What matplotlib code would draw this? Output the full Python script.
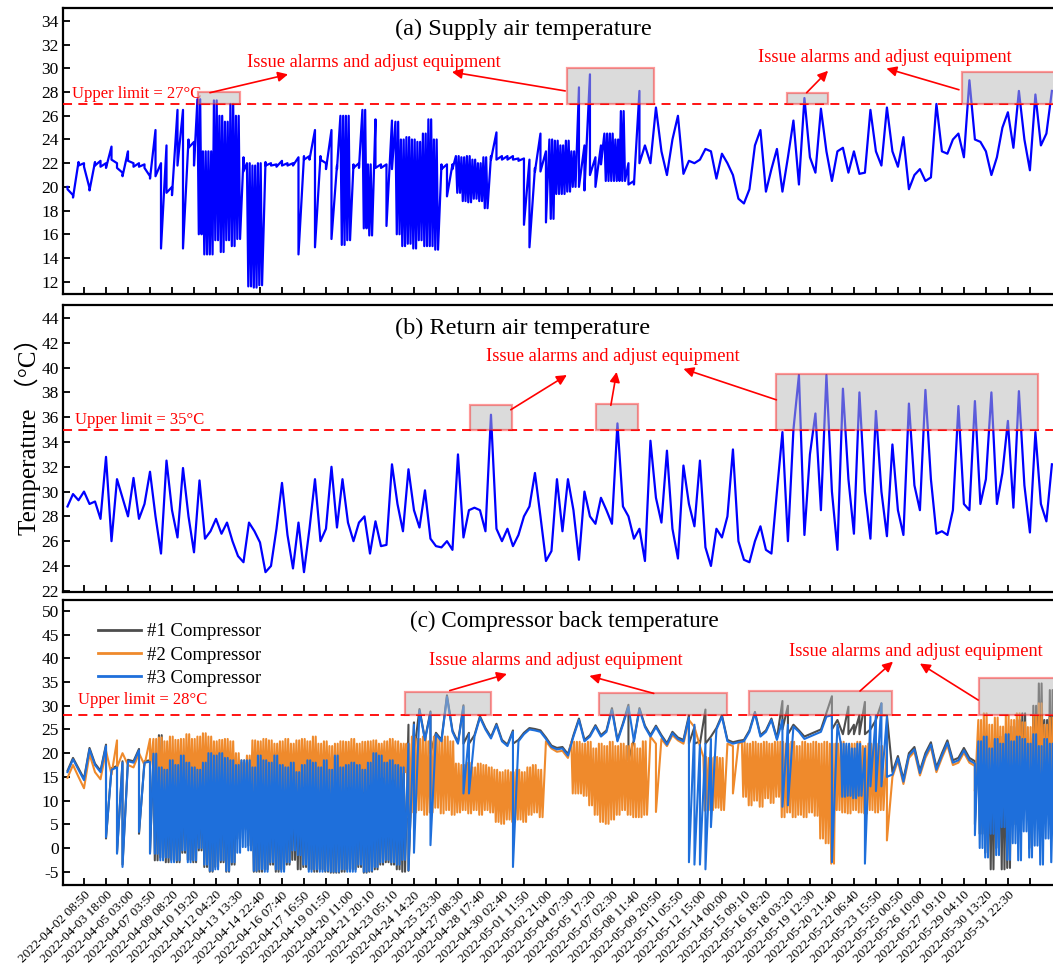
import numpy as np
import matplotlib
matplotlib.use("Agg")
import matplotlib.pyplot as plt
from matplotlib.patches import Rectangle
from matplotlib.lines import Line2D

plt.rcParams['font.family'] = ['Liberation Serif', 'Noto Sans CJK SC']
plt.rcParams['axes.unicode_minus'] = False

# ---------------- data ----------------
tick_labels = [
    "2022-04-02 08:50", "2022-04-03 18:00", "2022-04-05 03:00", "2022-04-07 03:50",
    "2022-04-09 08:20", "2022-04-10 19:20", "2022-04-12 04:20", "2022-04-13 13:30",
    "2022-04-14 22:40", "2022-04-16 07:40", "2022-04-17 16:50", "2022-04-19 01:50",
    "2022-04-20 11:00", "2022-04-21 20:10", "2022-04-23 05:10", "2022-04-24 14:20",
    "2022-04-25 23:30", "2022-04-27 08:30", "2022-04-28 17:40", "2022-04-30 02:40",
    "2022-05-01 11:50", "2022-05-02 21:00", "2022-05-04 07:30", "2022-05-05 17:20",
    "2022-05-07 02:30", "2022-05-08 11:40", "2022-05-09 20:50", "2022-05-11 05:50",
    "2022-05-12 15:00", "2022-05-14 00:00", "2022-05-15 09:10", "2022-05-16 18:20",
    "2022-05-18 03:20", "2022-05-19 12:30", "2022-05-20 21:40", "2022-05-22 06:40",
    "2022-05-23 15:50", "2022-05-25 00:50", "2022-05-26 10:00", "2022-05-27 19:10",
    "2022-05-29 04:10", "2022-05-30 13:20", "2022-05-31 22:30", ""]

# supply air: per-sample maximum and minimum
supply_hi = [
    20.0, 19.3, 22.1, 22.0, 19.9, 22.1, 22.2, 22.0, 23.4, 22.0,
    21.2, 23.0, 22.0, 22.0, 21.9, 20.9, 24.8, 22.0, 23.5, 20.0,
    26.5, 26.5, 24.0, 23.8, 27.4, 23.0, 23.0, 27.3, 26.0, 25.5,
    27.0, 26.0, 22.5, 22.0, 21.8, 22.0, 22.1, 22.0, 21.9, 22.2,
    22.0, 22.0, 22.5, 22.6, 22.6, 24.8, 22.6, 22.0, 24.8, 21.8,
    26.0, 26.0, 21.9, 22.0, 26.5, 21.9, 25.7, 21.9, 21.9, 25.6,
    25.5, 24.0, 24.2, 24.0, 23.8, 24.5, 25.7, 24.0, 21.9, 21.9,
    21.9, 22.6, 22.5, 22.6, 22.3, 22.0, 22.5, 22.6, 24.6, 22.6,
    22.6, 22.6, 22.4, 22.4, 22.3, 21.6, 24.5, 23.0, 24.0, 23.9,
    23.5, 23.9, 23.0, 28.4, 23.5, 29.5, 22.5, 23.5, 24.5, 24.5,
    24.0, 26.4, 22.0, 20.5, 28.1, 23.5, 22.0, 26.7, 23.0, 21.0,
    24.0, 26.0, 21.1, 22.2, 22.0, 22.3, 23.2, 23.0, 20.7, 22.8,
    22.0, 21.0, 19.0, 18.6, 19.8, 23.5, 24.8, 19.6, 21.5, 23.2,
    19.6, 22.5, 25.6, 20.2, 27.5, 22.5, 21.2, 26.6, 23.0, 20.5,
    23.0, 23.3, 21.2, 23.0, 21.1, 21.2, 26.5, 23.0, 21.8, 26.7,
    23.0, 21.7, 24.2, 19.8, 21.0, 21.5, 20.5, 20.8, 27.0, 23.0,
    22.8, 24.0, 24.5, 22.5, 29.0, 24.0, 23.8, 23.0, 21.0, 22.5,
    25.0, 26.3, 23.3, 28.1, 24.0, 21.4, 27.8, 23.5, 24.5, 28.1]
supply_lo = [
    19.8, 19.1, 21.8, 21.7, 19.7, 21.8, 21.7, 21.6, 22.3, 21.6,
    20.9, 22.2, 21.7, 21.7, 21.6, 20.7, 20.9, 14.8, 19.5, 19.3,
    21.8, 14.8, 23.3, 21.8, 16.0, 14.3, 14.3, 15.5, 14.5, 15.5,
    15.0, 15.6, 21.3, 11.6, 11.5, 11.7, 21.8, 21.8, 21.7, 21.8,
    21.8, 21.8, 14.3, 22.3, 22.3, 14.9, 22.3, 21.5, 15.6, 21.5,
    15.1, 15.5, 21.6, 21.6, 16.5, 15.9, 21.6, 21.6, 16.7, 21.5,
    16.0, 15.0, 15.2, 14.8, 15.5, 15.0, 15.0, 14.7, 21.5, 19.2,
    21.5, 19.5, 18.8, 18.7, 19.0, 18.8, 18.2, 22.3, 22.3, 22.3,
    22.3, 22.3, 22.2, 16.8, 14.9, 21.3, 21.3, 17.0, 17.3, 19.4,
    19.4, 19.6, 20.0, 20.0, 19.7, 21.0, 20.0, 21.9, 20.5, 20.5,
    20.5, 20.5, 20.2, 20.2, 22.0, 23.5, 22.0, 26.7, 23.0, 21.0,
    24.0, 26.0, 21.1, 22.2, 22.0, 22.3, 23.2, 23.0, 20.7, 22.8,
    22.0, 21.0, 19.0, 18.6, 19.8, 23.5, 24.8, 19.6, 21.5, 23.2,
    19.6, 22.5, 25.6, 20.2, 27.5, 22.5, 21.2, 26.6, 23.0, 20.5,
    23.0, 23.3, 21.2, 23.0, 21.1, 21.2, 26.5, 23.0, 21.8, 26.7,
    23.0, 21.7, 24.2, 19.8, 21.0, 21.5, 20.5, 20.8, 27.0, 23.0,
    22.8, 24.0, 24.5, 22.5, 29.0, 24.0, 23.8, 23.0, 21.0, 22.5,
    25.0, 26.3, 23.3, 28.1, 24.0, 21.4, 27.8, 23.5, 24.5, 28.1]
# sample ranges (inclusive) where the signal oscillates rapidly
supply_dense = [(24, 31), (33, 35), (50, 51), (54, 55), (60, 67), (71, 76), (88, 92), (98, 101)]

return_air = [
    28.8, 29.8, 29.3, 30.0, 29.0, 29.2, 27.8, 32.8, 26.0, 31.0,
    29.5, 28.0, 31.1, 27.8, 29.0, 31.6, 28.0, 25.0, 32.5, 28.5,
    26.3, 31.9, 28.0, 25.1, 30.9, 26.2, 26.8, 27.8, 26.6, 27.5,
    26.0, 24.8, 24.3, 27.5, 26.8, 25.9, 23.5, 24.0, 27.0, 30.7,
    26.5, 23.8, 27.5, 23.5, 27.0, 31.0, 26.0, 27.0, 32.0, 27.1,
    31.0, 27.5, 26.0, 27.5, 28.0, 25.0, 27.6, 25.6, 25.7, 32.2,
    29.0, 26.8, 31.8, 28.5, 27.1, 30.1, 26.2, 25.6, 25.5, 26.0,
    25.3, 33.0, 26.3, 28.5, 28.7, 28.5, 26.8, 36.2, 27.0, 26.0,
    27.0, 25.6, 26.5, 28.0, 28.8, 31.5, 28.0, 24.4, 25.2, 31.0,
    26.8, 31.0, 28.5, 24.5, 30.0, 28.0, 27.4, 29.5, 28.5, 27.4,
    35.5, 28.8, 28.0, 26.2, 27.0, 24.4, 34.1, 29.5, 27.5, 33.3,
    27.0, 24.6, 32.1, 29.0, 27.2, 32.5, 25.5, 24.0, 27.0, 26.3,
    28.0, 33.4, 26.0, 24.5, 24.3, 26.0, 27.2, 25.3, 25.0, 30.0,
    34.8, 26.0, 35.0, 39.4, 26.5, 33.0, 36.3, 28.5, 39.4, 30.0,
    25.3, 38.3, 31.0, 26.6, 38.0, 30.0, 26.2, 36.5, 30.0, 26.4,
    33.8, 28.5, 26.5, 37.1, 30.5, 28.5, 38.2, 31.0, 26.6, 26.8,
    26.5, 28.5, 36.9, 29.0, 28.5, 37.3, 29.0, 31.0, 38.0, 29.0,
    31.5, 35.7, 28.7, 38.1, 30.5, 26.7, 34.8, 29.0, 27.6, 32.2]

# compressor series: per-sample maximum and minimum
comp1_hi = [
    16.3, 19.0, 16.8, 14.6, 21.1, 17.8, 16.3, 21.8, 16.8, 17.3,
    18.3, 18.6, 18.3, 20.9, 18.3, 18.5, 19.5, 23.8, 16.0, 18.0,
    17.0, 19.0, 17.5, 16.5, 16.0, 17.5, 19.5, 19.0, 19.5, 18.5,
    18.0, 17.0, 18.0, 18.0, 16.5, 19.0, 18.0, 17.5, 19.0, 17.0,
    16.5, 17.5, 15.5, 17.0, 18.0, 17.5, 16.5, 18.0, 16.0, 19.0,
    16.5, 17.0, 17.5, 17.0, 16.0, 17.5, 19.5, 19.0, 17.5, 18.0,
    17.0, 18.5, 26.0, 26.5, 29.3, 23.0, 28.8, 24.3, 22.8, 32.2,
    24.8, 22.3, 30.1, 24.3, 23.8, 27.8, 25.3, 23.4, 26.2, 22.8,
    21.8, 24.8, 22.8, 24.3, 25.3, 25.1, 24.8, 23.3, 21.6, 21.1,
    21.3, 19.8, 23.8, 27.3, 22.8, 23.8, 25.9, 23.8, 24.8, 29.5,
    22.8, 26.3, 30.2, 22.8, 29.5, 25.8, 23.8, 25.8, 23.8, 22.1,
    24.5, 23.3, 22.8, 28.0, 25.5, 22.5, 29.2, 23.5, 25.3, 28.0,
    22.8, 22.3, 22.6, 22.8, 24.8, 28.7, 23.8, 24.8, 27.3, 23.1,
    31.0, 30.0, 26.0, 24.8, 23.5, 24.0, 24.5, 25.0, 28.5, 32.0,
    27.0, 24.0, 29.8, 26.0, 28.0, 30.8, 25.0, 27.0, 30.5, 28.0,
    16.0, 19.4, 14.5, 20.0, 21.3, 16.3, 20.0, 22.3, 17.0, 20.0,
    22.7, 18.5, 19.0, 21.1, 19.0, 18.3, 22.7, 23.0, 21.5, 22.0,
    23.5, 24.0, 25.6, 27.0, 28.4, 22.0, 30.0, 34.7, 27.0, 33.3]
comp1_lo = [
    16.3, 19.0, 16.8, 14.6, 21.1, 17.8, 16.3, 2.0, 16.8, -1.0,
    -3.5, 18.6, 18.3, 3.0, 18.3, -1.0, -2.6, -2.0, -3.0, -2.5,
    -3.0, -1.0, -2.5, -3.0, -0.5, -4.0, -5.0, -4.0, -3.0, -5.0,
    -3.5, 2.0, 4.0, 0.5, -5.0, -5.0, -4.5, -3.5, -5.0, -4.5,
    -3.5, -2.5, -4.5, -4.0, -4.5, -5.0, -4.5, -5.0, -5.2, -5.2,
    -5.0, -4.5, -4.5, -4.0, -5.2, -5.0, -4.5, -3.5, -3.0, -3.5,
    -4.5, -5.0, -4.8, 20.0, 29.3, 23.0, 20.0, 24.3, 22.8, 32.2,
    24.8, 22.3, 22.0, 22.0, 23.8, 27.8, 25.3, 23.4, 26.2, 22.8,
    21.8, 22.0, 22.8, 24.3, 25.3, 25.1, 24.8, 23.3, 21.6, 21.1,
    21.3, 19.8, 23.8, 27.3, 22.8, 23.8, 25.9, 23.8, 24.8, 29.5,
    22.8, 26.3, 18.5, 22.8, 29.5, 25.8, 23.8, 25.8, 23.8, 22.1,
    24.5, 23.3, 22.8, 22.0, 22.0, 22.0, 22.0, 23.5, 25.3, 28.0,
    22.8, 22.3, 22.6, 22.8, 24.8, 28.7, 23.8, 24.8, 27.3, 23.1,
    25.0, 24.0, 26.0, 24.8, 23.5, 24.0, 24.5, 25.0, 28.5, 25.0,
    27.0, 24.0, 24.0, 24.0, 24.0, 24.0, 25.0, 27.0, 28.0, 28.0,
    16.0, 19.4, 14.5, 20.0, 21.3, 16.3, 20.0, 22.3, 17.0, 20.0,
    22.7, 18.5, 19.0, 21.1, 19.0, 5.0, 3.0, -1.0, -4.5, 0.0,
    -4.5, -4.2, 5.0, 8.0, 10.0, 0.0, 12.0, 15.0, 10.0, 5.0]
comp1_dense = [(16, 61), (166, 179)]

comp2_hi = [
    14.8, 17.5, 15.0, 12.6, 19.8, 16.0, 14.5, 20.5, 15.5, 22.7,
    20.0, 17.5, 17.0, 20.0, 17.5, 23.0, 23.0, 23.3, 22.5, 23.5,
    22.8, 23.0, 24.0, 23.0, 23.5, 24.2, 23.5, 22.5, 22.8, 23.0,
    22.5, 20.0, 18.5, 19.5, 22.7, 22.5, 23.0, 22.7, 22.0, 22.5,
    23.0, 22.0, 22.7, 23.0, 22.5, 23.5, 22.0, 22.5, 21.5, 22.0,
    22.5, 22.4, 23.0, 22.0, 22.4, 22.5, 22.7, 22.0, 22.5, 23.0,
    22.5, 22.0, 22.0, 23.5, 23.0, 23.5, 22.5, 23.5, 23.0, 23.5,
    22.5, 17.8, 17.5, 18.0, 17.0, 17.8, 17.5, 17.0, 16.5, 16.0,
    16.4, 16.0, 16.5, 16.0, 17.0, 17.5, 16.5, 22.5, 21.0, 20.3,
    20.5, 19.0, 22.4, 22.4, 22.0, 22.4, 21.0, 22.0, 21.5, 22.4,
    21.5, 22.0, 21.5, 22.0, 21.0, 22.5, 23.5, 22.0, 23.0, 21.5,
    23.8, 22.7, 22.0, 27.0, 25.5, 21.5, 19.2, 19.0, 19.2, 19.0,
    22.0, 21.5, 22.0, 22.4, 22.0, 22.4, 22.0, 22.4, 22.0, 22.4,
    22.4, 22.0, 22.4, 21.5, 22.4, 22.0, 22.4, 22.0, 22.4, 22.0,
    22.0, 22.4, 21.5, 22.0, 22.4, 21.5, 22.0, 22.0, 21.5, 22.0,
    15.0, 18.4, 13.5, 19.0, 20.3, 15.3, 19.0, 21.3, 16.0, 19.0,
    21.7, 17.5, 18.0, 20.1, 18.0, 17.3, 27.0, 28.4, 26.0, 27.5,
    25.6, 28.0, 27.0, 28.4, 26.5, 25.5, 28.0, 30.5, 26.0, 27.5]
comp2_lo = [
    14.8, 17.5, 15.0, 12.6, 19.8, 16.0, 14.5, 20.5, 15.5, 17.0,
    20.0, 17.5, 17.0, 20.0, 17.5, 17.0, 7.5, 10.0, 12.0, 9.0,
    11.5, 9.5, 12.0, 10.0, 11.0, 12.5, 11.0, 12.5, 13.0, 12.0,
    11.5, 11.0, 10.8, 11.0, 12.0, 13.0, 12.5, 11.5, 13.0, 12.0,
    11.5, 12.5, 11.5, 13.0, 11.5, 12.0, 11.5, 12.5, 10.5, 10.0,
    12.0, 13.0, 12.5, 11.5, 12.0, 13.5, 14.0, 15.0, 13.0, 14.5,
    12.0, 16.0, 6.5, 7.5, 8.0, 7.0, 7.5, 8.5, 7.3, 8.0,
    7.0, 7.5, 8.0, 7.3, 8.0, 7.0, 8.0, 7.5, 5.5, 5.1,
    6.0, 5.5, 6.0, 5.5, 7.0, 7.5, 6.5, 22.5, 21.0, 20.3,
    20.5, 19.0, 11.5, 11.5, 11.0, 9.0, 7.0, 5.5, 5.1, 6.0,
    7.0, 8.0, 7.0, 6.5, 6.5, 7.0, 23.5, 7.6, 23.0, 21.5,
    23.8, 22.7, 22.0, 27.0, 25.5, 21.5, 7.9, 8.0, 8.5, 8.0,
    22.0, 11.5, 22.0, 10.8, 9.0, 10.0, 8.7, 10.5, 9.5, 10.8,
    6.5, 7.5, 6.5, 7.0, 6.5, 7.5, 6.8, 2.0, 1.0, -3.3,
    8.0, 7.5, 7.3, 8.0, 7.5, 7.3, 8.0, 7.5, 8.0, 1.6,
    15.0, 18.4, 13.5, 19.0, 20.3, 15.3, 19.0, 21.3, 16.0, 19.0,
    21.7, 17.5, 18.0, 20.1, 18.0, 12.0, 9.0, 10.0, 8.0, 9.5,
    8.5, 10.0, 9.0, 12.0, 10.0, 8.0, 13.0, 9.0, 11.0, 10.0]
comp2_dense = [(16, 61), (62, 86), (92, 105), (116, 119), (123, 148), (166, 179)]

comp3_hi = [
    16.0, 18.7, 16.5, 14.3, 20.8, 17.5, 16.0, 21.5, 16.5, 17.0,
    18.0, 18.3, 18.0, 20.6, 18.0, 18.2, 19.9, 17.0, 16.5, 18.5,
    17.5, 19.5, 18.0, 17.0, 16.5, 18.0, 20.0, 19.5, 20.0, 19.0,
    18.5, 17.5, 18.5, 18.5, 17.0, 19.5, 18.5, 18.0, 19.5, 17.5,
    17.0, 18.0, 16.0, 17.5, 18.5, 18.0, 17.0, 18.5, 16.5, 19.5,
    17.0, 17.5, 18.0, 17.5, 16.5, 18.0, 20.0, 19.5, 18.0, 18.5,
    17.5, 17.0, 22.0, 26.0, 29.0, 22.7, 28.5, 24.0, 22.5, 31.9,
    24.5, 22.0, 29.8, 24.0, 23.5, 27.5, 25.0, 23.1, 25.9, 22.5,
    21.5, 24.5, 22.5, 24.0, 25.0, 24.8, 24.5, 23.0, 21.3, 20.8,
    21.0, 19.5, 23.5, 27.0, 22.5, 23.5, 25.6, 23.5, 24.5, 29.1,
    22.5, 26.0, 29.8, 22.5, 29.2, 25.5, 23.5, 25.5, 23.5, 21.8,
    24.2, 23.0, 22.5, 27.5, 26.0, 21.8, 22.0, 23.0, 25.0, 27.7,
    22.5, 22.0, 22.3, 22.5, 24.5, 28.4, 23.5, 24.5, 27.0, 22.8,
    27.0, 26.0, 25.6, 24.5, 23.0, 23.5, 24.0, 24.5, 27.7, 28.0,
    26.0, 22.0, 22.0, 21.0, 22.0, 21.0, 27.7, 28.0, 30.5, 27.7,
    15.5, 18.9, 14.0, 19.5, 20.8, 15.8, 19.5, 21.8, 16.5, 19.5,
    22.2, 18.0, 18.5, 20.6, 18.5, 17.8, 22.5, 23.5, 21.0, 23.0,
    22.0, 24.0, 22.5, 23.5, 23.0, 22.0, 24.0, 21.5, 23.0, 22.0]
comp3_lo = [
    16.0, 18.7, 16.5, 14.3, 20.8, 17.5, 16.0, 2.3, 16.5, -1.2,
    -4.0, 18.3, 18.0, 3.4, 18.0, -1.2, -1.2, -2.6, -2.0, -3.0,
    -2.6, -0.5, -3.0, -2.6, 0.0, -3.5, -4.8, -4.5, -2.6, -4.8,
    -3.0, -1.0, 0.2, -0.5, -4.8, -4.5, -5.0, -3.0, -4.5, -5.0,
    -3.0, -0.5, -1.5, -3.5, -5.0, -4.5, -5.0, -4.8, -5.0, -5.0,
    -4.5, -5.0, -5.0, -3.5, -5.0, -4.8, -4.0, -3.0, -2.5, -3.0,
    -3.5, -2.5, -4.7, -1.0, 29.0, 22.7, 0.6, 24.0, 22.5, 31.9,
    24.5, 22.0, 11.5, 11.5, 23.5, 27.5, 25.0, 23.1, 25.9, 22.5,
    21.5, -4.0, 22.5, 24.0, 25.0, 24.8, 24.5, 23.0, 21.3, 20.8,
    21.0, 19.5, 23.5, 27.0, 22.5, 23.5, 25.6, 23.5, 24.5, 29.1,
    22.5, 26.0, 29.8, 22.5, 29.2, 25.5, 23.5, 25.5, 23.5, 21.8,
    24.2, 23.0, 22.5, -3.0, -3.5, -3.5, -4.5, 4.4, 25.0, 27.7,
    22.5, 22.0, 22.3, 22.5, 24.5, 28.4, 23.5, 24.5, 27.0, 22.8,
    8.7, 9.0, 25.6, 24.5, 23.0, 23.5, 24.0, 24.5, 27.7, -3.0,
    26.0, 10.8, 11.0, 10.5, 11.0, -3.3, 13.0, 12.0, 13.0, 15.0,
    15.5, 18.9, 14.0, 19.5, 20.8, 15.8, 19.5, 21.8, 16.5, 19.5,
    22.2, 18.0, 18.5, 20.6, 18.5, 2.7, 0.0, -2.0, 3.0, -1.5,
    4.4, -2.5, 1.0, -2.6, 3.5, -2.0, 0.5, -3.5, 2.0, -3.0]
comp3_dense = [(16, 61), (141, 144), (166, 179)]

upper_limits = [27, 35, 28]

# annotation boxes (x0, x1 in sample index, top value) per panel
boxes_a = [(23.7, 31.4, 28.0), (90.8, 106.6, 30.0), (130.8, 138.3, 27.9), (162.6, 181.0, 29.7)]
boxes_b = [(73.2, 80.8, 37.0), (96.1, 103.7, 37.1), (128.9, 176.4, 39.45)]
boxes_c = [(61.4, 77.0, 33.0), (96.7, 119.9, 32.6), (124.0, 149.9, 33.2), (165.8, 181.0, 35.8)]

# ---------------- figure ----------------
W, H = 1053, 967
fig = plt.figure(figsize=(W / 100, H / 100), dpi=100)

def px_axes(left, top, bottom, right=W):
    return fig.add_axes([left / W, 1 - bottom / H, (right - left) / W, (bottom - top) / H])

ax_a = px_axes(63, 8, 293.5)
ax_b = px_axes(63, 305, 592)
ax_c = px_axes(63, 600, 885)

n = len(return_air)
idx = np.arange(n)
tick_pos = 3 + 4 * np.arange(len(tick_labels))
xlim = (-0.82, 179.2)

RED = '#FF0000'
BLUE = '#0000FF'
GRAY = '#4D4D4D'
ORANGE = '#EF8A2C'
CBLUE = '#1E6FDB'

def style(ax, ylim, yticks):
    ax.set_xlim(*xlim)
    ax.set_ylim(*ylim)
    ax.set_yticks(yticks)
    ax.set_xticks(tick_pos)
    ax.tick_params(direction='in', length=5, width=1.3, labelsize=12.5, pad=3)
    for s in ['left', 'bottom', 'top']:
        ax.spines[s].set_linewidth(1.6)
    ax.spines['right'].set_visible(False)

def add_boxes(ax, boxes, ybase):
    for x0, x1, top in boxes:
        r = Rectangle((x0, ybase), x1 - x0, top - ybase,
                      facecolor=(0.72, 0.72, 0.72, 0.5),
                      edgecolor=(1.0, 0.0, 0.0, 0.4), lw=1.6, zorder=5)
        ax.add_patch(r)

def arrow(ax, start, tip):
    ax.annotate('', xy=tip, xytext=start,
                arrowprops=dict(arrowstyle='-|>', color=RED, lw=1.2,
                                mutation_scale=15, shrinkA=0, shrinkB=0),
                zorder=6)

def minmax_xy(hi, lo, dense):
    # ordinary samples: one vertical stroke max -> min;
    # samples inside dense ranges: the signal swings between max and min
    # several times within the sample width
    dense_set = set()
    for a, b in dense:
        dense_set.update(range(a, b + 1))
    xs, ys = [], []
    for i in range(len(hi)):
        if i in dense_set:
            xs += [i - 0.375, i - 0.125, i + 0.125, i + 0.375]
            ys += [hi[i], lo[i], hi[i], lo[i]]
        else:
            xs += [i, i]
            ys += [hi[i], lo[i]]
    return np.array(xs), np.array(ys)

ALARM = 'Issue alarms and adjust equipment'
ANN_FS = 13.2

# ---- panel (a)
style(ax_a, (11.0, 35.1), np.arange(12, 35, 2))
ax_a.set_xticklabels([])
xa, ya = minmax_xy(supply_hi, supply_lo, supply_dense)
ax_a.plot(xa, ya, color=BLUE, lw=1.6, zorder=3)
ax_a.axhline(upper_limits[0], color=RED, lw=1.3, ls=(0, (5, 3.5)), zorder=4)
add_boxes(ax_a, boxes_a, upper_limits[0])
ax_a.text(0.8, 27.85, 'Upper limit = 27°C', color=RED, fontsize=12, va='center', ha='left')
ax_a.text(0.335, 0.925, '(a) Supply air temperature', transform=ax_a.transAxes,
          fontsize=17.6, ha='left', va='center')
ax_a.text(55.7, 30.5, ALARM, color=RED, fontsize=ANN_FS, ha='center', va='center')
ax_a.text(148.6, 30.9, ALARM, color=RED, fontsize=ANN_FS, ha='center', va='center')
arrow(ax_a, (25.9, 27.95), (40.1, 29.5))
arrow(ax_a, (90.5, 28.1), (69.9, 29.7))
arrow(ax_a, (134.4, 27.95), (138.3, 29.8))
arrow(ax_a, (162.1, 28.2), (148.9, 30.0))

# ---- panel (b)
style(ax_b, (21.9, 45.05), np.arange(22, 45, 2))
ax_b.set_xticklabels([])
ax_b.plot(idx, return_air, color=BLUE, lw=1.6, zorder=3)
ax_b.axhline(upper_limits[1], color=RED, lw=1.3, ls=(0, (5, 3.5)), zorder=4)
add_boxes(ax_b, boxes_b, upper_limits[1])
ax_b.text(1.4, 35.75, 'Upper limit = 35°C', color=RED, fontsize=12, va='center', ha='left')
ax_b.text(0.335, 0.92, '(b) Return air temperature', transform=ax_b.transAxes,
          fontsize=17.5, ha='left', va='center')
ax_b.text(99.2, 40.9, ALARM, color=RED, fontsize=ANN_FS, ha='center', va='center')
arrow(ax_b, (80.6, 36.6), (90.8, 39.4))
arrow(ax_b, (98.8, 36.96), (99.85, 39.65))
arrow(ax_b, (128.9, 37.4), (112.0, 39.9))

# ---- panel (c)
style(ax_c, (-7.8, 52.3), np.arange(-5, 51, 5))
ax_c.set_xticklabels(tick_labels, rotation=45, ha='right', va='top',
                     rotation_mode='anchor', fontsize=9.6)
x1, y1 = minmax_xy(comp1_hi, comp1_lo, comp1_dense)
x2, y2 = minmax_xy(comp2_hi, comp2_lo, comp2_dense)
x3, y3 = minmax_xy(comp3_hi, comp3_lo, comp3_dense)
ax_c.plot(x1, y1, color=GRAY, lw=1.5, zorder=2)
ax_c.plot(x2, y2, color=ORANGE, lw=1.5, zorder=2.5)
ax_c.plot(x3, y3, color=CBLUE, lw=1.5, zorder=3)
ax_c.axhline(upper_limits[2], color=RED, lw=1.3, ls=(0, (5, 3.5)), zorder=4)
add_boxes(ax_c, boxes_c, upper_limits[2])
ax_c.text(1.9, 31.2, 'Upper limit = 28°C', color=RED, fontsize=12, va='center', ha='left')
ax_c.text(0.35, 0.925, '(c) Compressor back temperature', transform=ax_c.transAxes,
          fontsize=16.7, ha='left', va='center')
ax_c.text(88.8, 39.6, ALARM, color=RED, fontsize=ANN_FS, ha='center', va='center')
ax_c.text(154.3, 41.5, ALARM, color=RED, fontsize=ANN_FS, ha='center', va='center')
arrow(ax_c, (69.5, 33.2), (79.9, 36.7))
arrow(ax_c, (106.6, 32.6), (94.9, 36.3))
arrow(ax_c, (144.1, 33.1), (150.1, 39.3))
arrow(ax_c, (165.6, 31.2), (155.0, 38.9))

handles = [Line2D([], [], color=GRAY, lw=2), Line2D([], [], color=ORANGE, lw=2),
           Line2D([], [], color=CBLUE, lw=2)]
ax_c.legend(handles, ['#1 Compressor', '#2 Compressor', '#3 Compressor'],
            loc='upper left', bbox_to_anchor=(0.035, 0.918), frameon=False,
            fontsize=13.5, handlelength=2.3, handletextpad=0.35, labelspacing=0.32,
            borderpad=0, borderaxespad=0)

fig.text(28 / W, 1 - 430 / H, 'Temperature （°C）', rotation=90, fontsize=18,
         ha='center', va='center')

fig.savefig('out.png', dpi=100)
